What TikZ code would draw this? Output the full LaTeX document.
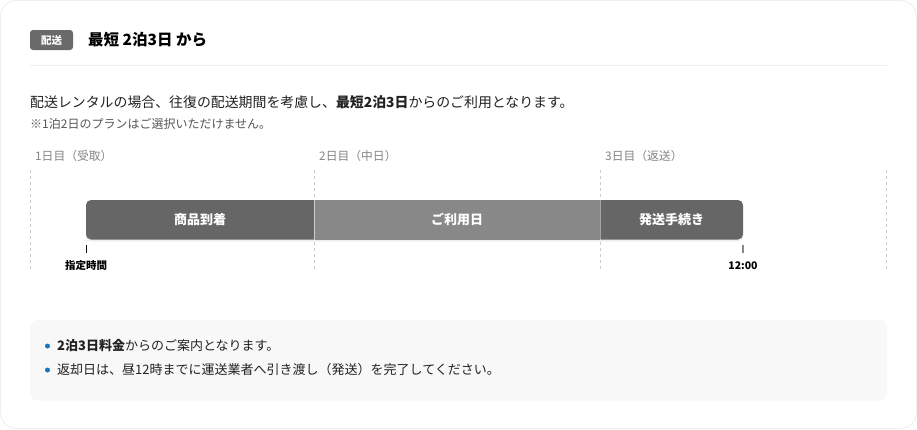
\documentclass[tikz,border=0pt]{standalone}
\usepackage{fontspec}
\setmainfont{Noto Sans CJK JP}
\usetikzlibrary{shadows}
\definecolor{cardline}{HTML}{F0F0F0}
\definecolor{sepline}{HTML}{EEEEEE}
\definecolor{badge}{HTML}{6A6A6A}
\definecolor{bardark}{HTML}{666666}
\definecolor{barmid}{HTML}{888888}
\definecolor{daygray}{HTML}{858585}
\definecolor{dashgray}{HTML}{CCCCCC}
\definecolor{notegray}{HTML}{555555}
\definecolor{boxbg}{HTML}{F8F8F8}
\definecolor{dotblue}{HTML}{1F6FC5}
\definecolor{ink}{HTML}{222222}
\tikzset{
  txt/.style={inner sep=0pt, anchor=west, text=ink},
  daylabel/.style={inner sep=0pt, anchor=west, text=daygray, font=\fontsize{11.8}{13}\selectfont},
  dayline/.style={draw=dashgray, dashed, dash pattern=on 3pt off 3pt, line width=0.8pt},
  bartext/.style={inner sep=0pt, text=white, font=\bfseries\fontsize{13}{15}\selectfont},
  tick/.style={line width=1.2pt},
  ticklabel/.style={inner sep=0pt, text=black, font=\bfseries\fontsize{10.5}{12}\selectfont},
  bullettext/.style={inner sep=0pt, anchor=west, text=ink, font=\fontsize{13}{15}\selectfont},
  dot/.style={circle, fill=dotblue, inner sep=0pt, minimum size=5pt}
}
\begin{document}
\begin{tikzpicture}[x=1pt,y=-1pt]
\useasboundingbox (0,0) rectangle (917,429);
% card
\draw[cardline, line width=1pt, rounded corners=16pt, fill=white] (0.5,0.5) rectangle (916.5,428.5);
% header
\node[fill=badge, rounded corners=3pt, minimum width=43pt, minimum height=20pt, inner sep=0pt,
      text=white, font=\bfseries\fontsize{10.5}{12}\selectfont] (badge) at (51.5,40) {配送};
\node[txt, text=black, font=\bfseries\fontsize{15.5}{17}\selectfont] (title) at (88,40) {最短 2泊3日 から};
\coordinate (sepL) at (30,65.5);
\coordinate (sepR) at (887,65.5);
\draw[sepline, line width=1pt] (sepL) -- (sepR);
% paragraph
\node[txt, font=\fontsize{13.9}{16}\selectfont] (para) at (30,102) {配送レンタルの場合、往復の配送期間を考慮し、\textbf{最短2泊3日}からのご利用となります。};
\node[txt, text=notegray, font=\fontsize{12}{14}\selectfont] (note) at (30,124) {※1泊2日のプランはご選択いただけません。};
% day labels
\node[daylabel] (d1) at (35,156) {1日目（受取）};
\node[daylabel] (d2) at (319,156) {2日目（中日）};
\node[daylabel] (d3) at (605,156) {3日目（返送）};
% dashed day lines
\coordinate (l1t) at (30,170); \coordinate (l1b) at (30,270);
\coordinate (l2t) at (314,170); \coordinate (l2b) at (314,270);
\coordinate (l3t) at (600,170); \coordinate (l3b) at (600,270);
\coordinate (l4t) at (886,170); \coordinate (l4b) at (886,270);
\draw[dayline] (l1t) -- (l1b);
\draw[dayline] (l2t) -- (l2b);
\draw[dayline] (l3t) -- (l3b);
\draw[dayline] (l4t) -- (l4b);
% bar
\fill[bardark, rounded corners=5pt, drop shadow={opacity=0.12, shadow xshift=0pt, shadow yshift=-2pt}] (86,200) rectangle (743,239.5);
\fill[barmid] (314,200) rectangle (600,239.5);
\draw[white, opacity=0.6, line width=0.8pt] (314,200) -- (314,239.5);
\draw[white, opacity=0.4, line width=0.8pt] (600,200) -- (600,239.5);
\node[bartext] (s1) at (200,219.5) {商品到着};
\node[bartext] (s2) at (457,219.5) {ご利用日};
\node[bartext] (s3) at (671.5,219.5) {発送手続き};
% ticks
\coordinate (t1a) at (86.5,245); \coordinate (t1b) at (86.5,253);
\coordinate (t2a) at (743,245); \coordinate (t2b) at (743,253);
\draw[tick, black] (t1a) -- (t1b);
\draw[tick, barmid] (t2a) -- (t2b);
\node[ticklabel] (tl1) at (86,265.5) {指定時間};
\node[ticklabel] (tl2) at (743,265.5) {12:00};
% info box
\fill[boxbg, rounded corners=8pt] (30,320) rectangle (887,400.5);
\node[dot] (b1) at (47.5,346) {};
\node[dot] (b2) at (47.5,370) {};
\node[bullettext] (i1) at (57,346) {\textbf{2泊3日料金}からのご案内となります。};
\node[bullettext] (i2) at (57,370) {返却日は、昼12時までに運送業者へ引き渡し（発送）を完了してください。};
\end{tikzpicture}
\end{document}
